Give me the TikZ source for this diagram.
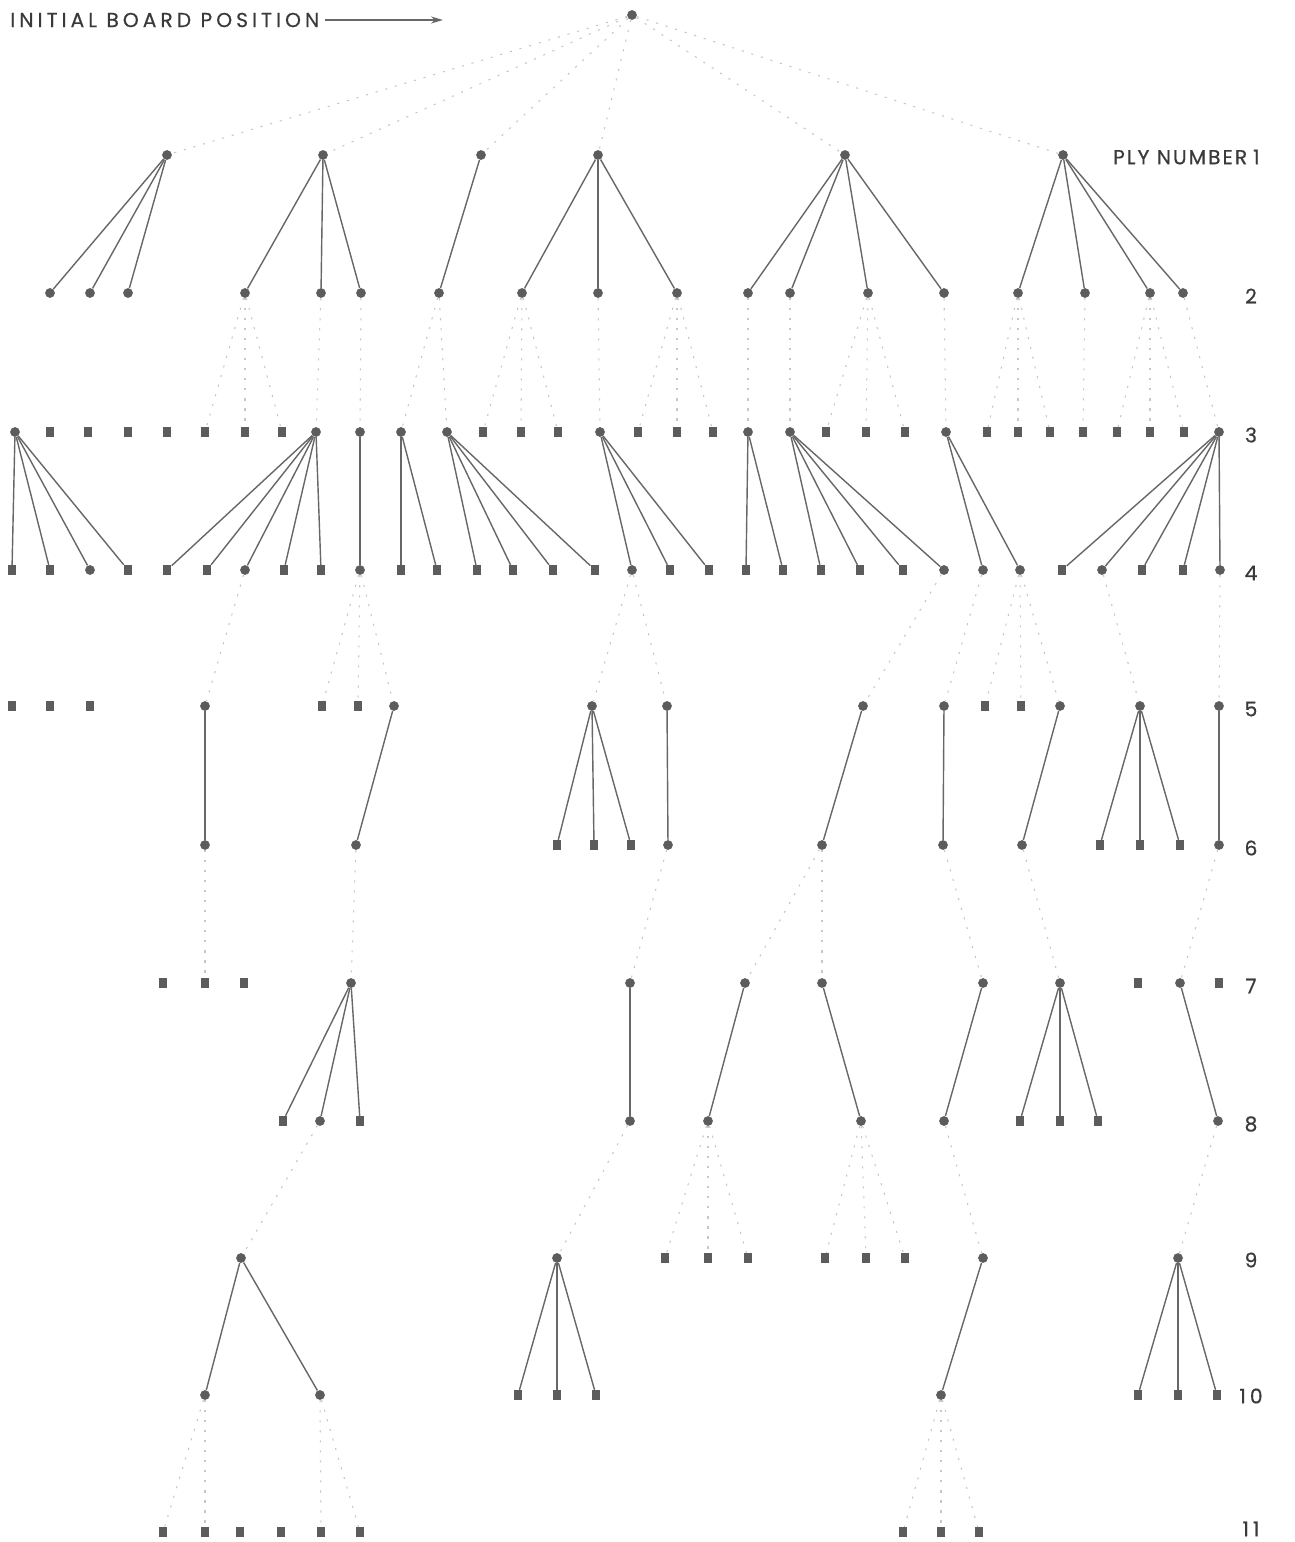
\documentclass[tikz,border=0pt]{standalone}
\usepackage{fontspec}
\usetikzlibrary{arrows.meta}
\newfontfamily\plyfont{Poppins}[LetterSpace=20, FakeBold=0.6]
\definecolor{nodeGrey}{HTML}{5C5C5C}
\definecolor{lineGrey}{HTML}{676767}
\definecolor{prunedGrey}{HTML}{C6C6C6}
\definecolor{textGrey}{HTML}{3A3A3A}

\begin{document}
\begin{tikzpicture}[x=0.2mm, y=-0.2mm,
    mv/.style={circle, fill=nodeGrey, inner sep=0pt, minimum size=1.95mm},
    tm/.style={rectangle, fill=nodeGrey, inner sep=0pt, minimum width=1.75mm, minimum height=1.95mm},
    br/.style={draw=lineGrey, line width=0.8pt},
    pr/.style={draw=prunedGrey, line width=0.6pt, dash pattern=on 1.2pt off 4.5pt},
    plylab/.style={font=\plyfont\fontsize{11.5}{13}\selectfont, text=textGrey, inner sep=0pt}]
  \useasboundingbox (0,0) rectangle (1295,1542);

  % moves (circles) and terminal positions (squares), ply by ply
  \node[mv] (root) at (632,15) {};
  \foreach \x in {167,323,481,598,845,1063} \node[mv] (n1-\x) at (\x,155) {};
  \foreach \x in {50,90,128,245,321,361,439,522,598,677,748,790,868,944,1018,1085,1150,1183} \node[mv] (n2-\x) at (\x,293) {};
  \foreach \x in {15,316,360,401,447,600,748,790,946,1219} \node[mv] (n3-\x) at (\x,432) {};
  \foreach \x in {50,88,128,167,205,245,282,483,521,558,638,677,713,826,866,905,987,1018,1050,1083,1117,1150,1184} \node[tm] (n3-\x) at (\x,432) {};
  \foreach \x in {90,245,360,632,944,983,1020,1102,1220} \node[mv] (n4-\x) at (\x,570) {};
  \foreach \x in {12,50,128,167,207,284,321,401,437,477,513,553,595,670,709,746,783,821,860,903,1062,1142,1183} \node[tm] (n4-\x) at (\x,570) {};
  \foreach \x in {205,394,592,667,863,944,1060,1140,1219} \node[mv] (n5-\x) at (\x,706) {};
  \foreach \x in {12,50,90,322,358,985,1021} \node[tm] (n5-\x) at (\x,706) {};
  \foreach \x in {205,356,668,822,943,1022,1219} \node[mv] (n6-\x) at (\x,845) {};
  \foreach \x in {557,594,631,1100,1140,1180} \node[tm] (n6-\x) at (\x,845) {};
  \foreach \x in {351,630,745,822,983,1060,1180} \node[mv] (n7-\x) at (\x,983) {};
  \foreach \x in {163,205,244,1138,1219} \node[tm] (n7-\x) at (\x,983) {};
  \foreach \x in {320,630,708,861,944,1218} \node[mv] (n8-\x) at (\x,1121) {};
  \foreach \x in {283,360,1020,1060,1098} \node[tm] (n8-\x) at (\x,1121) {};
  \foreach \x in {241,557,983,1178} \node[mv] (n9-\x) at (\x,1258) {};
  \foreach \x in {665,708,748,825,866,905} \node[tm] (n9-\x) at (\x,1258) {};
  \foreach \x in {205,320,941} \node[mv] (n10-\x) at (\x,1395) {};
  \foreach \x in {518,557,596,1138,1178,1217} \node[tm] (n10-\x) at (\x,1395) {};
  \foreach \x in {163,205,240,281,321,360,903,941,979} \node[tm] (n11-\x) at (\x,1532) {};

  % branches: solid from odd plies, dotted from even plies
  \foreach \c in {167,323,481,598,845,1063} \draw[pr] (root) -- (n1-\c);
  \foreach \p/\cs in {167/{50,90,128},323/{245,321,361},481/{439},598/{522,598,677},845/{748,790,868,944},1063/{1018,1085,1150,1183}}
    \foreach \c in \cs \draw[br] (n1-\p) -- (n2-\c);
  \foreach \p/\cs in {245/{205,245,282},321/{316},361/{360},439/{401,447},522/{483,521,558},598/{600},677/{638,677,713},748/{748},790/{790},868/{826,866,905},944/{946},1018/{987,1018,1050},1085/{1083},1150/{1117,1150,1184},1183/{1219}}
    \foreach \c in \cs \draw[pr] (n2-\p) -- (n3-\c);
  \foreach \p/\cs in {15/{12,50,90,128},316/{167,207,245,284,321},360/{360},401/{401,437},447/{477,513,553,595},600/{632,670,709},748/{746,783},790/{821,860,903,944},946/{983,1020},1219/{1062,1102,1142,1183,1220}}
    \foreach \c in \cs \draw[br] (n3-\p) -- (n4-\c);
  \foreach \p/\cs in {245/{205},360/{322,358,394},632/{592,667},944/{863},983/{944},1020/{985,1021,1060},1102/{1140},1220/{1219}}
    \foreach \c in \cs \draw[pr] (n4-\p) -- (n5-\c);
  \foreach \p/\cs in {205/{205},394/{356},592/{557,594,631},667/{668},863/{822},944/{943},1060/{1022},1140/{1100,1140,1180},1219/{1219}}
    \foreach \c in \cs \draw[br] (n5-\p) -- (n6-\c);
  \foreach \p/\cs in {205/{205},356/{351},668/{630},822/{745,822},943/{983},1022/{1060},1219/{1180}}
    \foreach \c in \cs \draw[pr] (n6-\p) -- (n7-\c);
  \foreach \p/\cs in {351/{283,320,360},630/{630},745/{708},822/{861},983/{944},1060/{1020,1060,1098},1180/{1218}}
    \foreach \c in \cs \draw[br] (n7-\p) -- (n8-\c);
  \foreach \p/\cs in {320/{241},630/{557},708/{665,708,748},861/{825,866,905},944/{983},1218/{1178}}
    \foreach \c in \cs \draw[pr] (n8-\p) -- (n9-\c);
  \foreach \p/\cs in {241/{205,320},557/{518,557,596},983/{941},1178/{1138,1178,1217}}
    \foreach \c in \cs \draw[br] (n9-\p) -- (n10-\c);
  \foreach \p/\cs in {205/{163,205},320/{321,360},941/{903,941,979}}
    \foreach \c in \cs \draw[pr] (n10-\p) -- (n11-\c);

  % labels
  \node[plylab, anchor=west] (initpos) at (10,20) {INITIAL BOARD POSITION};
  \coordinate (initarrow) at (443,20);
  \draw[lineGrey, line width=0.9pt, -{Stealth[length=2.4mm,width=1.4mm]}] ([xshift=1mm]initpos.east) -- (initarrow);
  \node[plylab, anchor=east] (ply1) at (1260,157) {\addfontfeature{LetterSpace=10}PLY NUMBER\hspace{1.2mm}1};
  \foreach \k/\y in {2/296,3/435,4/573,5/709,6/848,7/986,8/1124,9/1260,10/1396,11/1529}
    \node[plylab] (ply\k) at (1251,\y) {\k};
\end{tikzpicture}
\end{document}
